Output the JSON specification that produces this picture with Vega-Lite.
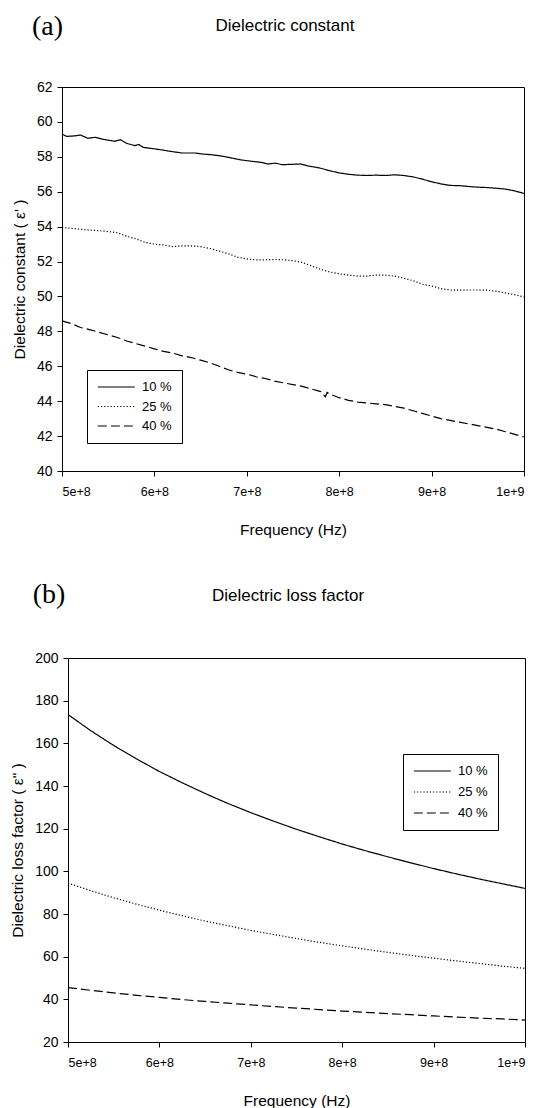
{
  "$schema": "https://vega.github.io/schema/vega-lite/v6.json",
  "background": "white",
  "padding": {"left": 10, "top": 12, "right": 4, "bottom": 0},
  "spacing": 42,
  "resolve": {"scale": {"strokeDash": "independent"}, "legend": {"strokeDash": "independent"}},
  "config": {
    "font": "Liberation Sans",
    "view": {"stroke": "black", "strokeWidth": 1},
    "axis": {
      "grid": false, "domainColor": "black", "tickColor": "black", "labelColor": "black", "titleColor": "black",
      "tickSize": 5, "labelFontSize": 12.5, "titleFontSize": 15.5, "titleFontWeight": "normal",
      "labelFont": "Liberation Sans", "titleFont": "Liberation Sans", "labelPadding": 5
    },
    "axisX": {"labelPadding": 9, "titlePadding": 25},
    "axisY": {"titlePadding": 9, "labelFontSize": 14},
    "title": {"font": "Liberation Sans", "fontSize": 17, "fontWeight": "normal", "color": "black"},
    "legend": {
      "orient": "none", "title": null, "strokeColor": "black", "fillColor": "white", "padding": 10,
      "symbolType": "M-1,0H5", "symbolSize": 152, "symbolStrokeColor": "black", "symbolStrokeWidth": 1.2,
      "symbolFillColor": "transparent", "labelFontSize": 13, "labelFont": "Liberation Sans", "labelColor": "black",
      "labelOffset": 31, "rowPadding": 5.5
    },
    "line": {"color": "black", "strokeWidth": 1.2}
  },
  "datasets": {
    "a": [
      {"f": 5.00e8, "v": 59.30, "c": "10 %"}, {"f": 5.05e8, "v": 59.17, "c": "10 %"}, {"f": 5.14e8, "v": 59.20, "c": "10 %"},
      {"f": 5.20e8, "v": 59.25, "c": "10 %"}, {"f": 5.28e8, "v": 59.06, "c": "10 %"}, {"f": 5.36e8, "v": 59.12, "c": "10 %"},
      {"f": 5.45e8, "v": 59.00, "c": "10 %"}, {"f": 5.57e8, "v": 58.89, "c": "10 %"}, {"f": 5.63e8, "v": 58.98, "c": "10 %"},
      {"f": 5.70e8, "v": 58.77, "c": "10 %"}, {"f": 5.79e8, "v": 58.64, "c": "10 %"}, {"f": 5.83e8, "v": 58.71, "c": "10 %"},
      {"f": 5.88e8, "v": 58.54, "c": "10 %"}, {"f": 6.01e8, "v": 58.45, "c": "10 %"}, {"f": 6.10e8, "v": 58.38, "c": "10 %"},
      {"f": 6.19e8, "v": 58.30, "c": "10 %"}, {"f": 6.30e8, "v": 58.22, "c": "10 %"}, {"f": 6.44e8, "v": 58.22, "c": "10 %"},
      {"f": 6.52e8, "v": 58.16, "c": "10 %"}, {"f": 6.62e8, "v": 58.12, "c": "10 %"}, {"f": 6.72e8, "v": 58.05, "c": "10 %"},
      {"f": 6.80e8, "v": 57.97, "c": "10 %"}, {"f": 6.94e8, "v": 57.82, "c": "10 %"}, {"f": 7.09e8, "v": 57.72, "c": "10 %"},
      {"f": 7.16e8, "v": 57.68, "c": "10 %"}, {"f": 7.23e8, "v": 57.59, "c": "10 %"}, {"f": 7.31e8, "v": 57.64, "c": "10 %"},
      {"f": 7.38e8, "v": 57.55, "c": "10 %"}, {"f": 7.49e8, "v": 57.57, "c": "10 %"}, {"f": 7.58e8, "v": 57.59, "c": "10 %"},
      {"f": 7.66e8, "v": 57.48, "c": "10 %"}, {"f": 7.79e8, "v": 57.36, "c": "10 %"}, {"f": 7.90e8, "v": 57.20, "c": "10 %"},
      {"f": 8.00e8, "v": 57.08, "c": "10 %"}, {"f": 8.10e8, "v": 57.00, "c": "10 %"}, {"f": 8.20e8, "v": 56.95, "c": "10 %"},
      {"f": 8.30e8, "v": 56.93, "c": "10 %"}, {"f": 8.40e8, "v": 56.95, "c": "10 %"}, {"f": 8.50e8, "v": 56.93, "c": "10 %"},
      {"f": 8.60e8, "v": 56.97, "c": "10 %"}, {"f": 8.70e8, "v": 56.93, "c": "10 %"}, {"f": 8.80e8, "v": 56.85, "c": "10 %"},
      {"f": 8.90e8, "v": 56.72, "c": "10 %"}, {"f": 9.00e8, "v": 56.57, "c": "10 %"}, {"f": 9.10e8, "v": 56.45, "c": "10 %"},
      {"f": 9.20e8, "v": 56.36, "c": "10 %"}, {"f": 9.30e8, "v": 56.35, "c": "10 %"}, {"f": 9.40e8, "v": 56.30, "c": "10 %"},
      {"f": 9.50e8, "v": 56.26, "c": "10 %"}, {"f": 9.60e8, "v": 56.24, "c": "10 %"}, {"f": 9.70e8, "v": 56.20, "c": "10 %"},
      {"f": 9.80e8, "v": 56.15, "c": "10 %"}, {"f": 9.90e8, "v": 56.05, "c": "10 %"}, {"f": 10.0e8, "v": 55.90, "c": "10 %"},

      {"f": 5.0e8, "v": 53.95, "c": "25 %"}, {"f": 5.1e8, "v": 53.90, "c": "25 %"}, {"f": 5.2e8, "v": 53.85, "c": "25 %"},
      {"f": 5.3e8, "v": 53.80, "c": "25 %"}, {"f": 5.4e8, "v": 53.77, "c": "25 %"}, {"f": 5.5e8, "v": 53.72, "c": "25 %"},
      {"f": 5.6e8, "v": 53.65, "c": "25 %"}, {"f": 5.7e8, "v": 53.45, "c": "25 %"}, {"f": 5.8e8, "v": 53.30, "c": "25 %"},
      {"f": 5.9e8, "v": 53.10, "c": "25 %"}, {"f": 6.0e8, "v": 53.00, "c": "25 %"}, {"f": 6.1e8, "v": 52.95, "c": "25 %"},
      {"f": 6.2e8, "v": 52.85, "c": "25 %"}, {"f": 6.3e8, "v": 52.90, "c": "25 %"}, {"f": 6.4e8, "v": 52.90, "c": "25 %"},
      {"f": 6.5e8, "v": 52.85, "c": "25 %"}, {"f": 6.6e8, "v": 52.75, "c": "25 %"}, {"f": 6.7e8, "v": 52.60, "c": "25 %"},
      {"f": 6.8e8, "v": 52.45, "c": "25 %"}, {"f": 6.9e8, "v": 52.25, "c": "25 %"}, {"f": 7.0e8, "v": 52.15, "c": "25 %"},
      {"f": 7.1e8, "v": 52.10, "c": "25 %"}, {"f": 7.2e8, "v": 52.10, "c": "25 %"}, {"f": 7.3e8, "v": 52.12, "c": "25 %"},
      {"f": 7.4e8, "v": 52.10, "c": "25 %"}, {"f": 7.5e8, "v": 52.05, "c": "25 %"}, {"f": 7.6e8, "v": 51.95, "c": "25 %"},
      {"f": 7.7e8, "v": 51.75, "c": "25 %"}, {"f": 7.8e8, "v": 51.55, "c": "25 %"}, {"f": 7.9e8, "v": 51.40, "c": "25 %"},
      {"f": 8.0e8, "v": 51.30, "c": "25 %"}, {"f": 8.1e8, "v": 51.22, "c": "25 %"}, {"f": 8.2e8, "v": 51.17, "c": "25 %"},
      {"f": 8.3e8, "v": 51.17, "c": "25 %"}, {"f": 8.4e8, "v": 51.22, "c": "25 %"}, {"f": 8.5e8, "v": 51.22, "c": "25 %"},
      {"f": 8.6e8, "v": 51.17, "c": "25 %"}, {"f": 8.7e8, "v": 51.05, "c": "25 %"}, {"f": 8.8e8, "v": 50.90, "c": "25 %"},
      {"f": 8.9e8, "v": 50.70, "c": "25 %"}, {"f": 9.0e8, "v": 50.60, "c": "25 %"}, {"f": 9.1e8, "v": 50.45, "c": "25 %"},
      {"f": 9.2e8, "v": 50.37, "c": "25 %"}, {"f": 9.3e8, "v": 50.36, "c": "25 %"}, {"f": 9.4e8, "v": 50.37, "c": "25 %"},
      {"f": 9.5e8, "v": 50.37, "c": "25 %"}, {"f": 9.6e8, "v": 50.36, "c": "25 %"}, {"f": 9.7e8, "v": 50.30, "c": "25 %"},
      {"f": 9.8e8, "v": 50.20, "c": "25 %"}, {"f": 9.9e8, "v": 50.10, "c": "25 %"}, {"f": 10.0e8, "v": 49.97, "c": "25 %"},

      {"f": 5.0e8, "v": 48.60, "c": "40 %"}, {"f": 5.1e8, "v": 48.45, "c": "40 %"}, {"f": 5.2e8, "v": 48.22, "c": "40 %"},
      {"f": 5.3e8, "v": 48.10, "c": "40 %"}, {"f": 5.4e8, "v": 47.95, "c": "40 %"}, {"f": 5.5e8, "v": 47.80, "c": "40 %"},
      {"f": 5.6e8, "v": 47.65, "c": "40 %"}, {"f": 5.7e8, "v": 47.45, "c": "40 %"}, {"f": 5.8e8, "v": 47.30, "c": "40 %"},
      {"f": 5.9e8, "v": 47.15, "c": "40 %"}, {"f": 6.0e8, "v": 47.00, "c": "40 %"}, {"f": 6.1e8, "v": 46.85, "c": "40 %"},
      {"f": 6.2e8, "v": 46.75, "c": "40 %"}, {"f": 6.3e8, "v": 46.60, "c": "40 %"}, {"f": 6.4e8, "v": 46.50, "c": "40 %"},
      {"f": 6.5e8, "v": 46.35, "c": "40 %"}, {"f": 6.6e8, "v": 46.20, "c": "40 %"}, {"f": 6.7e8, "v": 46.00, "c": "40 %"},
      {"f": 6.8e8, "v": 45.80, "c": "40 %"}, {"f": 6.9e8, "v": 45.65, "c": "40 %"}, {"f": 7.0e8, "v": 45.55, "c": "40 %"},
      {"f": 7.1e8, "v": 45.40, "c": "40 %"}, {"f": 7.2e8, "v": 45.30, "c": "40 %"}, {"f": 7.3e8, "v": 45.15, "c": "40 %"},
      {"f": 7.4e8, "v": 45.05, "c": "40 %"}, {"f": 7.5e8, "v": 44.95, "c": "40 %"}, {"f": 7.6e8, "v": 44.85, "c": "40 %"},
      {"f": 7.7e8, "v": 44.70, "c": "40 %"}, {"f": 7.8e8, "v": 44.55, "c": "40 %"}, {"f": 7.85e8, "v": 44.25, "c": "40 %"},
      {"f": 7.87e8, "v": 44.50, "c": "40 %"}, {"f": 7.9e8, "v": 44.40, "c": "40 %"}, {"f": 8.0e8, "v": 44.20, "c": "40 %"},
      {"f": 8.1e8, "v": 44.05, "c": "40 %"}, {"f": 8.2e8, "v": 43.95, "c": "40 %"}, {"f": 8.3e8, "v": 43.90, "c": "40 %"},
      {"f": 8.4e8, "v": 43.85, "c": "40 %"}, {"f": 8.5e8, "v": 43.80, "c": "40 %"}, {"f": 8.6e8, "v": 43.70, "c": "40 %"},
      {"f": 8.7e8, "v": 43.60, "c": "40 %"}, {"f": 8.8e8, "v": 43.45, "c": "40 %"}, {"f": 8.9e8, "v": 43.30, "c": "40 %"},
      {"f": 9.0e8, "v": 43.15, "c": "40 %"}, {"f": 9.1e8, "v": 43.00, "c": "40 %"}, {"f": 9.2e8, "v": 42.90, "c": "40 %"},
      {"f": 9.3e8, "v": 42.80, "c": "40 %"}, {"f": 9.4e8, "v": 42.70, "c": "40 %"}, {"f": 9.5e8, "v": 42.60, "c": "40 %"},
      {"f": 9.6e8, "v": 42.50, "c": "40 %"}, {"f": 9.7e8, "v": 42.40, "c": "40 %"}, {"f": 9.8e8, "v": 42.25, "c": "40 %"},
      {"f": 9.9e8, "v": 42.10, "c": "40 %"}, {"f": 10.0e8, "v": 41.95, "c": "40 %"}
    ],
    "b": [
      {"f": 5.00e8, "v": 173.5, "c": "10 %"}, {"f": 5.25e8, "v": 165.9, "c": "10 %"}, {"f": 5.50e8, "v": 159.0, "c": "10 %"},
      {"f": 5.75e8, "v": 152.7, "c": "10 %"}, {"f": 6.00e8, "v": 146.8, "c": "10 %"}, {"f": 6.25e8, "v": 141.5, "c": "10 %"},
      {"f": 6.50e8, "v": 136.5, "c": "10 %"}, {"f": 6.75e8, "v": 131.8, "c": "10 %"}, {"f": 7.00e8, "v": 127.5, "c": "10 %"},
      {"f": 7.25e8, "v": 123.5, "c": "10 %"}, {"f": 7.50e8, "v": 119.7, "c": "10 %"}, {"f": 7.75e8, "v": 116.2, "c": "10 %"},
      {"f": 8.00e8, "v": 112.8, "c": "10 %"}, {"f": 8.25e8, "v": 109.7, "c": "10 %"}, {"f": 8.50e8, "v": 106.8, "c": "10 %"},
      {"f": 8.75e8, "v": 104.0, "c": "10 %"}, {"f": 9.00e8, "v": 101.3, "c": "10 %"}, {"f": 9.25e8, "v": 98.8, "c": "10 %"},
      {"f": 9.50e8, "v": 96.4, "c": "10 %"}, {"f": 9.75e8, "v": 94.2, "c": "10 %"}, {"f": 10.0e8, "v": 92.0, "c": "10 %"},

      {"f": 5.00e8, "v": 94.5, "c": "25 %"}, {"f": 5.25e8, "v": 90.9, "c": "25 %"}, {"f": 5.50e8, "v": 87.6, "c": "25 %"},
      {"f": 5.75e8, "v": 84.6, "c": "25 %"}, {"f": 6.00e8, "v": 81.8, "c": "25 %"}, {"f": 6.25e8, "v": 79.2, "c": "25 %"},
      {"f": 6.50e8, "v": 76.7, "c": "25 %"}, {"f": 6.75e8, "v": 74.5, "c": "25 %"}, {"f": 7.00e8, "v": 72.3, "c": "25 %"},
      {"f": 7.25e8, "v": 70.4, "c": "25 %"}, {"f": 7.50e8, "v": 68.5, "c": "25 %"}, {"f": 7.75e8, "v": 66.7, "c": "25 %"},
      {"f": 8.00e8, "v": 65.1, "c": "25 %"}, {"f": 8.25e8, "v": 63.5, "c": "25 %"}, {"f": 8.50e8, "v": 62.0, "c": "25 %"},
      {"f": 8.75e8, "v": 60.6, "c": "25 %"}, {"f": 9.00e8, "v": 59.3, "c": "25 %"}, {"f": 9.25e8, "v": 58.0, "c": "25 %"},
      {"f": 9.50e8, "v": 56.8, "c": "25 %"}, {"f": 9.75e8, "v": 55.6, "c": "25 %"}, {"f": 10.0e8, "v": 54.5, "c": "25 %"},

      {"f": 5.00e8, "v": 45.5, "c": "40 %"}, {"f": 5.25e8, "v": 44.2, "c": "40 %"}, {"f": 5.50e8, "v": 43.0, "c": "40 %"},
      {"f": 5.75e8, "v": 41.9, "c": "40 %"}, {"f": 6.00e8, "v": 40.9, "c": "40 %"}, {"f": 6.25e8, "v": 39.9, "c": "40 %"},
      {"f": 6.50e8, "v": 39.0, "c": "40 %"}, {"f": 6.75e8, "v": 38.2, "c": "40 %"}, {"f": 7.00e8, "v": 37.4, "c": "40 %"},
      {"f": 7.25e8, "v": 36.6, "c": "40 %"}, {"f": 7.50e8, "v": 35.9, "c": "40 %"}, {"f": 7.75e8, "v": 35.2, "c": "40 %"},
      {"f": 8.00e8, "v": 34.5, "c": "40 %"}, {"f": 8.25e8, "v": 33.9, "c": "40 %"}, {"f": 8.50e8, "v": 33.3, "c": "40 %"},
      {"f": 8.75e8, "v": 32.8, "c": "40 %"}, {"f": 9.00e8, "v": 32.2, "c": "40 %"}, {"f": 9.25e8, "v": 31.7, "c": "40 %"},
      {"f": 9.50e8, "v": 31.2, "c": "40 %"}, {"f": 9.75e8, "v": 30.8, "c": "40 %"}, {"f": 10.0e8, "v": 30.3, "c": "40 %"}
    ]
  },
  "vconcat": [
    {
      "title": {"text": "(a)", "font": "Liberation Serif", "fontSize": 28, "anchor": "start", "dx": 20, "offset": -24},
      "resolve": {"scale": {"strokeDash": "independent"}, "legend": {"strokeDash": "independent"}},
      "vconcat": [
        {
          "title": {"text": "Dielectric constant", "frame": "group", "dx": -8, "offset": 45},
          "width": 462, "height": 384,
          "data": {"name": "a"},
          "mark": {"type": "line"},
          "encoding": {
            "x": {"field": "f", "type": "quantitative", "scale": {"domain": [5e8, 1e9], "nice": false, "zero": false},
                  "axis": {"values": [5e8, 6e8, 7e8, 8e8, 9e8, 1e9], "format": ".0e", "title": "Frequency (Hz)"}},
            "y": {"field": "v", "type": "quantitative", "scale": {"domain": [40, 62], "nice": false, "zero": false},
                  "axis": {"values": [40, 42, 44, 46, 48, 50, 52, 54, 56, 58, 60, 62], "title": "Dielectric constant ( ε' )"}},
            "strokeDash": {"field": "c", "type": "nominal",
                  "scale": {"domain": ["10 %", "25 %", "40 %"], "range": [[1, 0], [1.2, 2], [9, 4]]},
                  "legend": {"legendX": 25, "legendY": 283, "rowPadding": 5.5}}
          }
        }
      ]
    },
    {
      "title": {"text": "(b)", "font": "Liberation Serif", "fontSize": 28, "anchor": "start", "dx": 22, "offset": -22},
      "resolve": {"scale": {"strokeDash": "independent"}, "legend": {"strokeDash": "independent"}},
      "vconcat": [
        {
          "title": {"text": "Dielectric loss factor", "frame": "group", "dx": -5.5, "offset": 46},
          "width": 463, "height": 384,
          "view": {"stroke": null},
          "data": {"name": "b"},
          "resolve": {"axis": {"x": "independent", "y": "independent"}},
          "layer": [
            {
              "mark": {"type": "line"},
              "encoding": {
                "x": {"field": "f", "type": "quantitative", "scale": {"domain": [5e8, 1e9], "range": [6, 463], "nice": false, "zero": false},
                      "axis": {"values": [5e8, 6e8, 7e8, 8e8, 9e8, 1e9], "format": ".0e", "title": "Frequency (Hz)"}},
                "y": {"field": "v", "type": "quantitative", "scale": {"domain": [20, 200], "nice": false, "zero": false},
                      "axis": {"values": [20, 40, 60, 80, 100, 120, 140, 160, 180, 200], "title": "Dielectric loss factor ( ε\" )", "offset": -6}},
                "strokeDash": {"field": "c", "type": "nominal",
                      "scale": {"domain": ["10 %", "25 %", "40 %"], "range": [[1, 0], [1.2, 2], [9, 4]]},
                      "legend": {"legendX": 341, "legendY": 96, "rowPadding": 7}}
              }
            },
            {
              "mark": {"type": "line", "opacity": 0},
              "encoding": {
                "x": {"field": "f", "type": "quantitative", "axis": {"orient": "top", "labels": false, "ticks": false, "title": null}},
                "y": {"field": "v", "type": "quantitative", "axis": {"orient": "right", "labels": false, "ticks": false, "title": null}},
                "detail": {"field": "c", "type": "nominal"}
              }
            }
          ]
        }
      ]
    }
  ]
}
